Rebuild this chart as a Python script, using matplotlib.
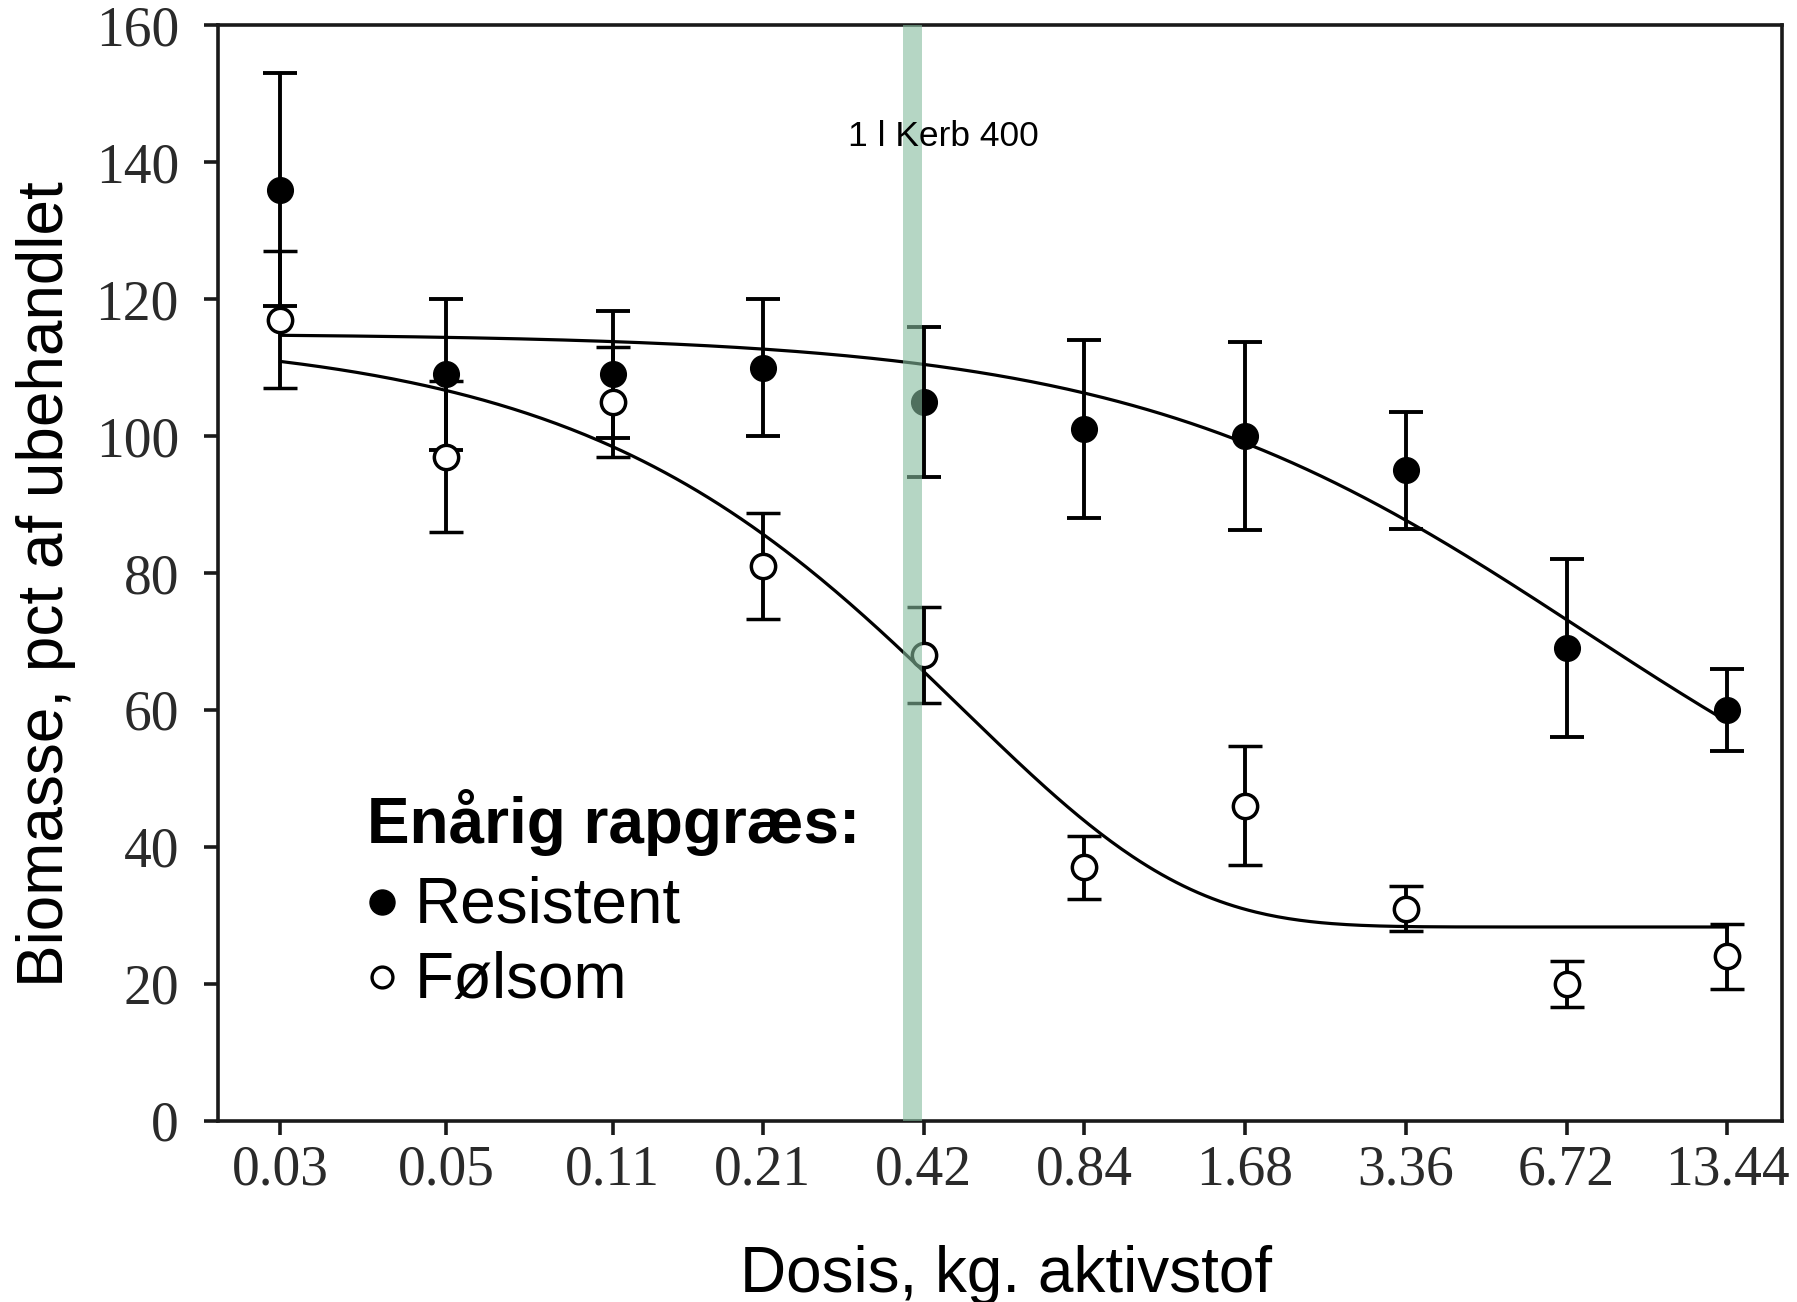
import numpy as np
import matplotlib
matplotlib.use("Agg")
from matplotlib import pyplot as plt

# doses (kg aktivstof) and their printed tick labels
dose = [0.02625, 0.0536, 0.11, 0.21, 0.42, 0.84, 1.68, 3.36, 6.72, 13.44]
dose_labels = ["0.03", "0.05", "0.11", "0.21", "0.42", "0.84", "1.68", "3.36", "6.72", "13.44"]

# resistant biotype, mean and error
res_mean = [136, 109, 109, 110, 105, 101, 100, 95, 69, 60]
res_err = [17, 11, 9.3, 10, 11, 13, 13.7, 8.5, 13, 6]

# sensitive biotype, mean and error
sen_mean = [117, 97, 105, 81, 68, 37, 46, 31, 20, 24]
sen_err = [10, 11, 8, 7.7, 7, 4.6, 8.7, 3.3, 3.4, 4.7]

# fitted dose-response curves (lower limit c, upper limit d, slope b, ED50 e)
res_fit = dict(c=28.3, d=115.0, b=1.02, e=7.2)    # log-logistic
sen_fit = dict(c=28.3, d=115.0, b=1.03, e=0.496)  # weibull

kerb_band = (0.385, 0.417)

fig = plt.figure(figsize=(17.97, 13.02), dpi=100)
ax = fig.add_axes([0.1212, 0.1392, 0.8705, 0.8414])

xx = np.geomspace(dose[0], dose[-1], 400)
p = res_fit
y_res = p["c"] + (p["d"] - p["c"]) / (1 + np.exp(p["b"] * (np.log(xx) - np.log(p["e"]))))
p = sen_fit
y_sen = p["c"] + (p["d"] - p["c"]) * np.exp(-np.exp(p["b"] * (np.log(xx) - np.log(p["e"]))))
ax.plot(xx, y_res, color="black", lw=2.3, zorder=2)
ax.plot(xx, y_sen, color="black", lw=2.3, zorder=2)

ax.errorbar(dose, res_mean, yerr=res_err, fmt="o", color="black", ms=18.5,
            elinewidth=2.8, capsize=12.5, capthick=2.8, zorder=3)
ax.errorbar(dose, sen_mean, yerr=sen_err, fmt="o", color="black", mfc="white",
            mec="black", mew=2.5, ms=17.5, elinewidth=2.8, capsize=12.5,
            capthick=2.8, zorder=4)

ax.axvspan(kerb_band[0], kerb_band[1], color="#84bb9d", alpha=0.6, lw=0, zorder=5)
ax.text(0.457, 142.3, "1 l Kerb 400", ha="center", va="baseline",
        fontsize=25.5, family="Liberation Sans", zorder=6)

ax.set_xscale("log", base=2)
ax.set_xlim(dose[0] * 2 ** (-0.39), dose[-1] * 2 ** 0.34)
ax.set_ylim(0, 160)
ax.set_xticks(dose)
ax.set_xticklabels(dose_labels)
ax.minorticks_off()
ax.set_yticks(np.arange(0, 161, 20))

for s in ax.spines.values():
    s.set_linewidth(2.6)
    s.set_color("#1a1a1a")
ax.tick_params(axis="both", direction="out", length=10, width=2.6, color="#1a1a1a",
               labelsize=40, labelcolor="#2a2a2a")
ax.tick_params(axis="x", pad=7)
ax.tick_params(axis="y", pad=18)
for lab in ax.get_xticklabels() + ax.get_yticklabels():
    lab.set_family("Liberation Serif")

# legend written by hand
ax.text(0.0952, 0.254, "Enårig rapgræs:", transform=ax.transAxes, fontsize=46,
        fontweight="bold", family="Liberation Sans", va="baseline", ha="left")
ax.plot([0.1048], [0.2000], "o", color="black", ms=18, transform=ax.transAxes)
ax.text(0.126, 0.181, "Resistent", transform=ax.transAxes, fontsize=46,
        family="Liberation Sans", va="baseline", ha="left")
ax.plot([0.1048], [0.1308], "o", mfc="white", mec="black", mew=2.4, ms=15,
        transform=ax.transAxes)
ax.text(0.126, 0.112, "Følsom", transform=ax.transAxes, fontsize=46,
        family="Liberation Sans", va="baseline", ha="left")

fig.text(0.0255, 0.551, "Biomasse, pct af ubehandlet", rotation=90, ha="center",
         va="center", fontsize=46, family="Liberation Sans")
fig.text(0.5596, 0.0075, "Dosis, kg. aktivstof", ha="center", va="baseline",
         fontsize=46, family="Liberation Sans")

fig.savefig("out.png", dpi=100)
